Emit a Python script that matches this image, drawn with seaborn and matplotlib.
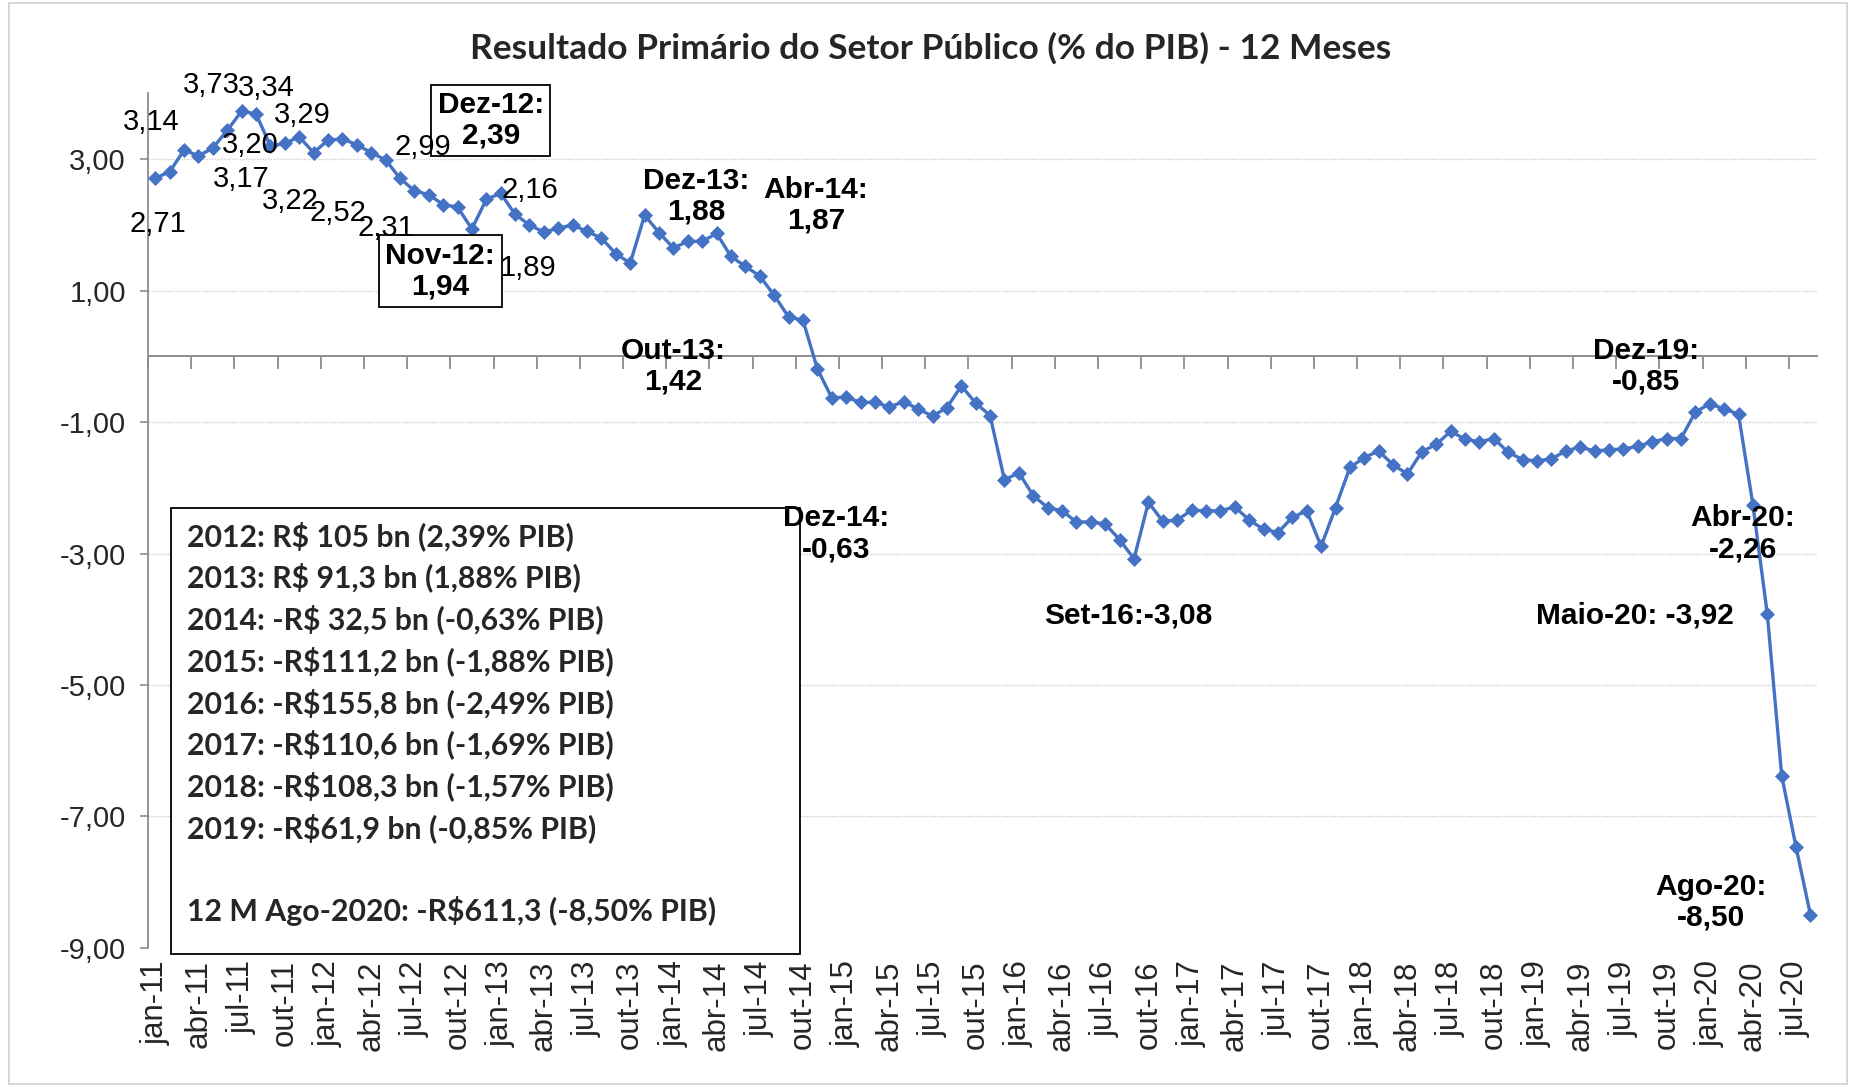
import numpy as np
import pandas as pd
import matplotlib
matplotlib.use("Agg")
import matplotlib.pyplot as plt
import matplotlib.patches as mpatches
from matplotlib.ticker import FuncFormatter
import seaborn as sns

# monthly 12-month primary result, % of GDP
months_pt = ["jan", "fev", "mar", "abr", "mai", "jun", "jul", "ago", "set", "out", "nov", "dez"]
y2011 = [2.71, 2.81, 3.14, 3.05, 3.17, 3.44, 3.73, 3.69, 3.20, 3.24, 3.34, 3.10]
y2012 = [3.29, 3.31, 3.22, 3.10, 2.99, 2.71, 2.52, 2.46, 2.31, 2.27, 1.94, 2.39]
y2013 = [2.48, 2.16, 2.00, 1.89, 1.95, 2.00, 1.90, 1.80, 1.56, 1.42, 2.15, 1.88]
y2014 = [1.65, 1.75, 1.75, 1.87, 1.52, 1.37, 1.22, 0.93, 0.60, 0.55, -0.19, -0.63]
y2015 = [-0.62, -0.70, -0.70, -0.77, -0.69, -0.80, -0.91, -0.78, -0.45, -0.71, -0.90, -1.88]
y2016 = [-1.77, -2.12, -2.30, -2.35, -2.52, -2.52, -2.55, -2.79, -3.08, -2.22, -2.51, -2.49]
y2017 = [-2.34, -2.35, -2.35, -2.29, -2.49, -2.63, -2.68, -2.45, -2.35, -2.89, -2.30, -1.69]
y2018 = [-1.54, -1.44, -1.65, -1.79, -1.45, -1.34, -1.14, -1.26, -1.30, -1.25, -1.46, -1.57]
y2019 = [-1.59, -1.56, -1.44, -1.38, -1.44, -1.42, -1.41, -1.37, -1.30, -1.25, -1.25, -0.85]
y2020 = [-0.72, -0.80, -0.88, -2.26, -3.92, -6.38, -7.47, -8.50]

values = y2011 + y2012 + y2013 + y2014 + y2015 + y2016 + y2017 + y2018 + y2019 + y2020
years = list(range(11, 21))
labels = [f"{m}-{yy}" for yy in years for m in months_pt][:len(values)]
df = pd.DataFrame({"idx": np.arange(len(values)), "mes": labels, "valor": values})

# plain data labels of 2011-2013 (text, x index, y position)
small_labels = [("2,71", 0.15, 2.01), ("3,14", -0.25, 3.57), ("3,73", 3.9, 4.13),
                ("3,34", 7.7, 4.08), ("3,20", 6.6, 3.22), ("3,17", 6.0, 2.70),
                ("3,29", 10.2, 3.68), ("3,22", 9.4, 2.37), ("2,52", 12.7, 2.18),
                ("2,31", 16.0, 1.96), ("2,99", 18.6, 3.18), ("2,16", 26.0, 2.53),
                ("1,89", 25.9, 1.35)]

# bold callouts (text, x index, y position, boxed)
callouts = [("Dez-12:\n2,39", 23.3, 3.59, True), ("Nov-12:\n1,94", 19.8, 1.30, True),
            ("Dez-13:\n1,88", 37.6, 2.44, False), ("Abr-14:\n1,87", 45.9, 2.30, False),
            ("Out-13:\n1,42", 36.0, -0.15, False), ("Dez-14:\n-0,63", 47.3, -2.70, False),
            ("Set-16:-3,08", 67.6, -3.94, False), ("Dez-19:\n-0,85", 103.6, -0.15, False),
            ("Abr-20:\n-2,26", 110.3, -2.70, False), ("Maio-20: -3,92", 102.8, -3.94, False),
            ("Ago-20:\n-8,50", 108.1, -8.31, False)]

box_lines = ["2012: R$ 105 bn (2,39% PIB)", "2013: R$ 91,3 bn (1,88% PIB)",
             "2014: -R$ 32,5 bn (-0,63% PIB)", "2015: -R$111,2 bn (-1,88% PIB)",
             "2016: -R$155,8 bn (-2,49% PIB)", "2017: -R$110,6 bn (-1,69% PIB)",
             "2018: -R$108,3 bn (-1,57% PIB)", "2019: -R$61,9 bn (-0,85% PIB)",
             "", "12 M Ago-2020: -R$611,3 (-8,50% PIB)"]

sns.set_theme(style="white")
plt.rcParams["font.family"] = ["Liberation Sans", "DejaVu Sans"]

fig = plt.figure(figsize=(18.51, 10.87), dpi=100)
ax = fig.add_axes([0.080, 0.128, 0.902, 0.786])

blue = "#4472C4"
gray = "#8c8c8c"
sns.lineplot(data=df, x="idx", y="valor", ax=ax, color=blue, linewidth=2.4,
             marker="D", markersize=7, markeredgecolor=blue, markeredgewidth=0.5,
             zorder=3)

ax.set_xlim(-0.5, len(values) - 0.5)
ax.set_ylim(-9, 4)
ax.set_xlabel("")
ax.set_ylabel("")

# y axis
ax.set_yticks(np.arange(-9, 4, 2))
ax.yaxis.set_major_formatter(FuncFormatter(lambda v, p: f"{v:.2f}".replace(".", ",")))
ax.tick_params(axis="y", labelsize=21, length=6, width=1.2, color=gray,
               pad=10, left=True)
ax.grid(axis="y", color="#cfcfcf", linestyle=(0, (1, 1)), linewidth=1)

# x labels at the bottom, every three months
ax.set_xticks(df["idx"][::3])
ax.set_xticklabels(df["mes"][::3], rotation=90, fontsize=22.5)
ax.tick_params(axis="x", length=0, pad=9)

for side in ["top", "right", "bottom"]:
    ax.spines[side].set_visible(False)
ax.spines["left"].set_color(gray)
ax.spines["left"].set_linewidth(1.3)

# category axis line crossing at zero, tick marks hanging below it
ax.axhline(0, color=gray, linewidth=1.4, zorder=2)
sec = ax.secondary_xaxis((0 - (-9)) / 13)
sec.set_xticks(np.arange(-0.5, len(values), 3))
sec.set_xticklabels([])
sec.tick_params(axis="x", direction="in", length=9, width=1.3, color=gray)
for side in ["top", "left", "right", "bottom"]:
    sec.spines[side].set_visible(False)

# summary box (under the callouts)
ax.add_patch(mpatches.Rectangle((0.0924, 0.1224), 0.3398, 0.4103,
                                transform=fig.transFigure, fc="white",
                                ec="black", lw=1.3, zorder=4, clip_on=False))
for k, line in enumerate(box_lines):
    ax.text(0.1008, 0.5069 - k * 0.03836, line, transform=fig.transFigure,
            ha="left", va="center", fontsize=21.8, fontweight="bold",
            family=["Lato", "DejaVu Sans"], zorder=5, clip_on=False)

for txt, x, y, boxed in callouts:
    kw = {}
    if boxed:
        kw["bbox"] = dict(boxstyle="square,pad=0.22", fc="white", ec="black", lw=1.3)
    ax.text(x, y, txt, ha="center", va="center", fontsize=21.5, fontweight="bold",
            color="black", linespacing=1.12, clip_on=False, zorder=6, **kw)

for txt, x, y in small_labels:
    ax.text(x, y, txt, ha="center", va="center", fontsize=21, color="black",
            clip_on=False, zorder=7)

fig.suptitle("Resultado Primário do Setor Público (% do PIB) - 12 Meses",
             x=0.503, y=0.956, va="center", fontsize=25.5, fontweight="bold",
             family=["Lato", "DejaVu Sans"])

# chart area border
fig.patches.append(mpatches.Rectangle((0.005, 0.003), 0.993, 0.994,
                                      transform=fig.transFigure, fill=False,
                                      ec="#d0d0d0", lw=1.2))

fig.savefig("out.png", dpi=100)
